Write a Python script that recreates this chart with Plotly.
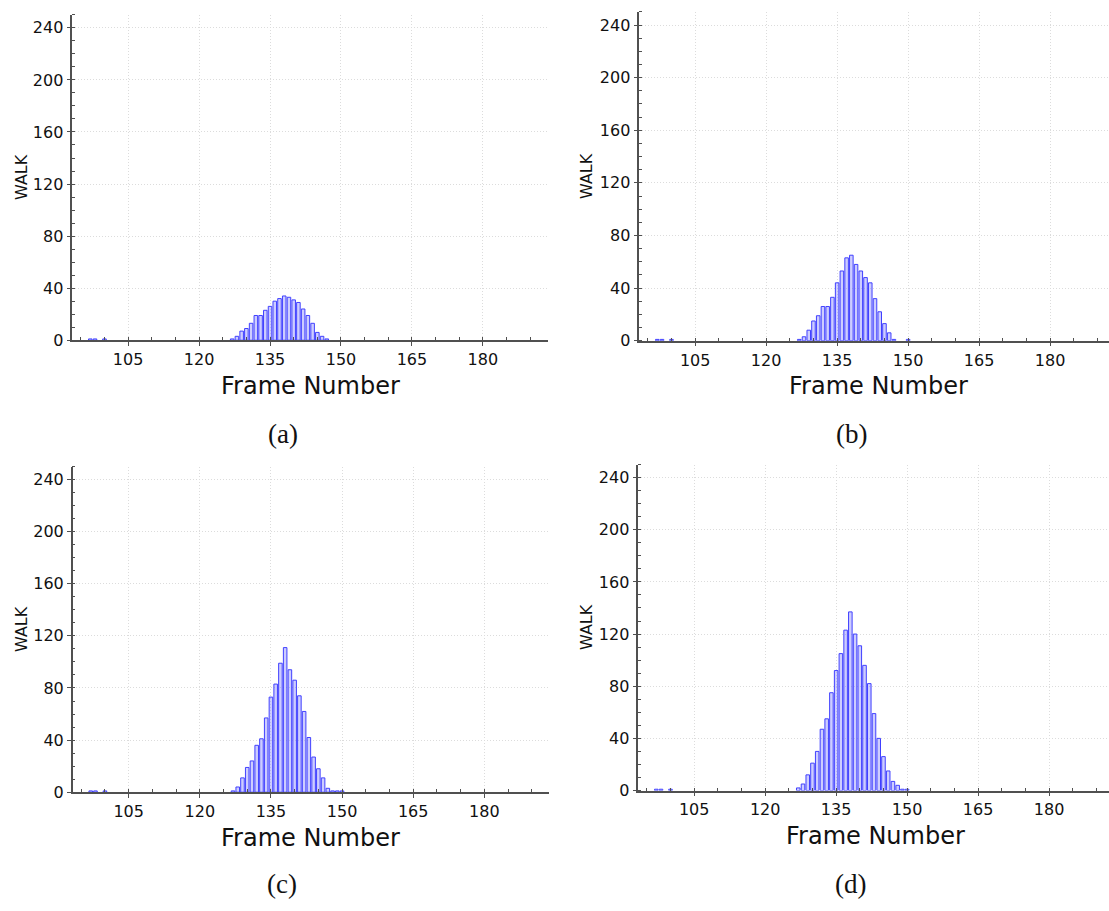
import plotly.graph_objects as go

# ---- data ----
frames_main = list(range(127, 148))  # 127..147
outlier_frames = [97, 98, 100]
outlier_counts = [1, 1, 1]

walk_a = [1, 3, 7, 9, 13, 19, 19, 23, 26, 30, 32, 34, 33, 31, 29, 24, 19, 13, 6, 3, 1]
walk_a_tail_frames = []
walk_a_tail = []

walk_b = [1, 3, 8, 15, 19, 26, 26, 33, 44, 53, 63, 65, 58, 53, 48, 44, 32, 22, 13, 6, 1]
walk_b_tail_frames = [150]
walk_b_tail = [1]

walk_c = [1, 4, 11, 19, 24, 36, 41, 57, 73, 83, 99, 111, 94, 86, 74, 62, 42, 27, 18, 11, 3]
walk_c_tail_frames = [148, 149, 150]
walk_c_tail = [1, 1, 1]

walk_d = [2, 5, 12, 21, 30, 47, 55, 75, 92, 105, 123, 137, 120, 111, 96, 82, 59, 40, 26, 15, 7]
walk_d_tail_frames = [148, 149, 150]
walk_d_tail = [4, 1, 1]

x_ticks = [105, 120, 135, 150, 165, 180]
y_ticks = [0, 40, 80, 120, 160, 200, 240]
captions = ["(a)", "(b)", "(c)", "(d)"]

W, H = 1109, 911

panels = [
    dict(vals=walk_a, tf=walk_a_tail_frames, tv=walk_a_tail,
         xd=[72.3, 547.7], yd=[344.0, 15.0], xr=[93.2, 193.7],
         walk=(21, 179), fn=(310, 390), cap=(283, 439)),
    dict(vals=walk_b, tf=walk_b_tail_frames, tv=walk_b_tail,
         xd=[639.3, 1109], yd=[344.5, 12.0], xr=[93.2, 192.44],
         walk=(586, 178), fn=(878, 390), cap=(851, 439)),
    dict(vals=walk_c, tf=walk_c_tail_frames, tv=walk_c_tail,
         xd=[72.7, 549.3], yd=[801.0, 471.7], xr=[93.2, 193.7],
         walk=(21, 636), fn=(310, 847), cap=(282, 894)),
    dict(vals=walk_d, tf=walk_d_tail_frames, tv=walk_d_tail,
         xd=[638.3, 1109], yd=[799.3, 469.7], xr=[93.2, 192.65],
         walk=(586, 634), fn=(875, 845), cap=(850, 894)),
]

fig = go.Figure()
annotations = []
axis_color = "#505050"
grid_color = "#dcdcdc"
tick_font = dict(family="DejaVu Sans", size=16, color="#111111")

for i, p in enumerate(panels):
    n = "" if i == 0 else str(i + 1)
    xs = outlier_frames + frames_main + p["tf"]
    ys = outlier_counts + p["vals"] + p["tv"]
    fig.add_trace(go.Bar(
        x=xs, y=ys, width=0.75,
        marker=dict(color="rgba(130,130,255,0.4)",
                    line=dict(color="#4040ff", width=1)),
        xaxis="x" + n, yaxis="y" + n, showlegend=False,
    ))
    xdom = [p["xd"][0] / W, min(1.0, p["xd"][1] / W)]
    ydom = [1 - p["yd"][0] / H, 1 - p["yd"][1] / H]
    fig.update_layout(**{
        "xaxis" + n: dict(
            domain=xdom, range=p["xr"], anchor="y" + n,
            tickvals=x_ticks, ticks="outside", ticklen=4, tickcolor=axis_color,
            showline=True, linecolor=axis_color, linewidth=1.5,
            showgrid=True, gridcolor=grid_color, griddash="1px,2px", gridwidth=1,
            zeroline=False, tickfont=tick_font,
            minor=dict(dtick=5, tick0=0, ticks="inside", ticklen=3,
                       tickcolor=axis_color, showgrid=False),
        ),
        "yaxis" + n: dict(
            domain=ydom, range=[0, 250], anchor="x" + n,
            tickvals=y_ticks, ticks="outside", ticklen=4, tickcolor=axis_color,
            showline=True, linecolor=axis_color, linewidth=1.5,
            showgrid=True, gridcolor=grid_color, griddash="1px,2px", gridwidth=1,
            zeroline=False, tickfont=tick_font,
            minor=dict(dtick=10, tick0=0, ticks="inside", ticklen=3,
                       tickcolor=axis_color, showgrid=False),
        ),
    })
    annotations.append(dict(
        text="WALK", x=p["walk"][0] / W, y=1 - p["walk"][1] / H,
        xref="paper", yref="paper", xanchor="center", yanchor="middle",
        textangle=-90, showarrow=False,
        font=dict(family="DejaVu Sans", size=16, color="#111111"),
    ))
    annotations.append(dict(
        text="Frame Number", x=p["fn"][0] / W, y=1 - p["fn"][1] / H,
        xref="paper", yref="paper", xanchor="center", yanchor="middle",
        showarrow=False,
        font=dict(family="DejaVu Sans", size=24, color="#111111"),
    ))
    annotations.append(dict(
        text=captions[i], x=p["cap"][0] / W, y=1 - p["cap"][1] / H,
        xref="paper", yref="paper", xanchor="center", yanchor="middle",
        showarrow=False,
        font=dict(family="Liberation Serif", size=27, color="#111111"),
    ))

fig.update_layout(
    width=W, height=H, autosize=False,
    margin=dict(l=0, r=0, t=0, b=0),
    paper_bgcolor="white", plot_bgcolor="white",
    bargap=0.25,
    annotations=annotations,
)

fig.write_html("out.html")
